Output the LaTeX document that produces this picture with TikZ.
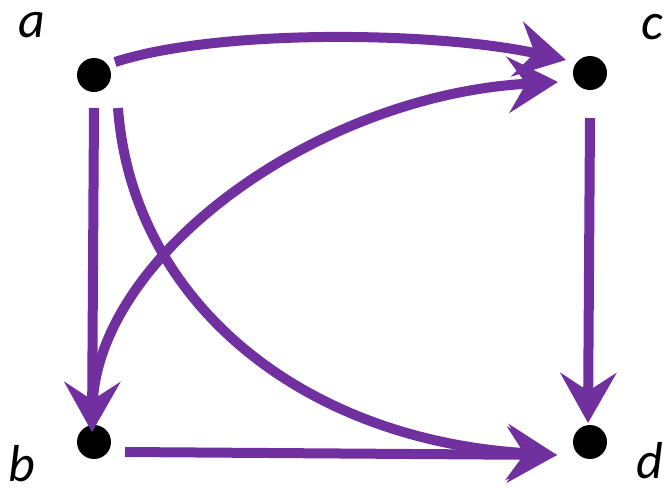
\documentclass[tikz,border=0pt]{standalone}
\usepackage{fontspec}
\setmainfont{Carlito}
\usetikzlibrary{arrows.meta}
\definecolor{edgepurple}{HTML}{7030A0}
\tikzset{
  vtx/.style={circle,fill=black,inner sep=0pt,minimum size=34pt},
  lbl/.style={font=\fontsize{52}{58}\selectfont\itshape,inner sep=0pt},
  edge/.style={draw=edgepurple,line width=10pt,
    -{Stealth[length=50pt,width=56pt,inset=18pt]}},
}
\begin{document}
\begin{tikzpicture}[x=1pt,y=-1pt]
\useasboundingbox (0,0) rectangle (666,488);
\node[vtx] (a) at (94,75) {};
\node[vtx] (c) at (590,73) {};
\node[vtx] (b) at (94,442) {};
\node[vtx] (d) at (590,442) {};
\node[lbl] (la) at (32,25) {a};
\node[lbl] (lc) at (652,27) {c};
\node[lbl] (lb) at (22,464) {b};
\node[lbl] (ld) at (650,461) {d};
\coordinate (as1) at (115,62);
\coordinate (ce1) at (566,60);
\coordinate (as2) at (94,108);
\coordinate (be1) at (92,432);
\coordinate (as3) at (118,108);
\coordinate (de1) at (557,455);
\coordinate (bs1) at (93,398);
\coordinate (ce2) at (558,82);
\coordinate (bs2) at (125,452);
\coordinate (de2) at (557,455);
\coordinate (cs1) at (590,118);
\coordinate (de3) at (588,423);
\draw[edge] (as1) .. controls (220,28) and (440,32) .. (ce1);
\draw[edge] (as2) -- (be1);
\draw[edge] (as3) .. controls (132,300) and (300,440) .. (de1);
\draw[edge] (bs1) .. controls (105,250) and (320,95) .. (ce2);
\draw[edge] (bs2) -- (de2);
\draw[edge] (cs1) -- (de3);
\end{tikzpicture}
\end{document}
